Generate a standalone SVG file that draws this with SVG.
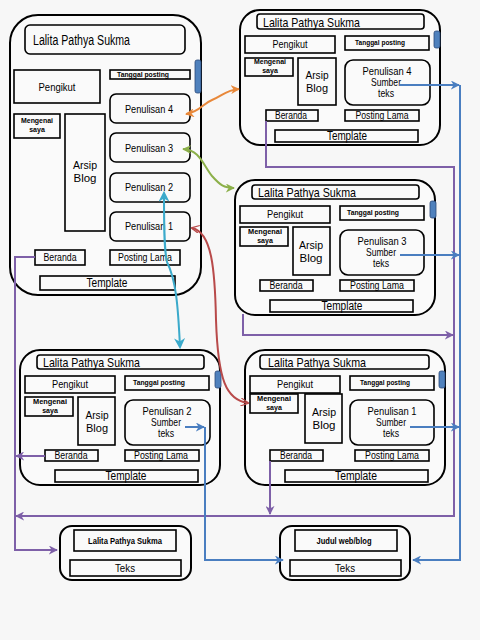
<svg xmlns="http://www.w3.org/2000/svg" width="480" height="640" viewBox="0 0 480 640">
<defs>
<style>
.frame{fill:#fafafa;stroke:#000;stroke-width:2}
.box{fill:#fafafa;stroke:#000;stroke-width:1.6}
.sb{fill:#4f81bd;stroke:#2c4a78;stroke-width:0.8}
text{font-family:"Liberation Sans",Arial,sans-serif;fill:#000}
.t14{font-size:14px}
.t13{font-size:13px}
.t12{font-size:12px;text-anchor:middle}
.t11{font-size:11px;text-anchor:middle}
.t10{font-size:10px;text-anchor:middle}
.ta{font-size:11px;text-anchor:middle}
.tb{font-size:7px;font-weight:bold;text-anchor:middle}
.tb9{font-size:9px;font-weight:bold;text-anchor:middle}
.c{fill:none;stroke-width:2}
.pu{stroke:#7e60a8}
.bl{stroke:#4a7ec0}
</style>
<marker id="mp" viewBox="0 0 10 10" refX="9" refY="5" markerWidth="9" markerHeight="9" markerUnits="userSpaceOnUse" orient="auto-start-reverse"><path d="M0,0 L10,5 L0,10 L3,5 z" fill="#7e60a8"/></marker>
<marker id="mb" viewBox="0 0 10 10" refX="9" refY="5" markerWidth="9" markerHeight="9" markerUnits="userSpaceOnUse" orient="auto-start-reverse"><path d="M0,0 L10,5 L0,10 L3,5 z" fill="#4a7ec0"/></marker>
<marker id="mo" viewBox="0 0 10 10" refX="9" refY="5" markerWidth="9" markerHeight="9" markerUnits="userSpaceOnUse" orient="auto-start-reverse"><path d="M0,0 L10,5 L0,10 L3,5 z" fill="#e8883a"/></marker>
<marker id="mg" viewBox="0 0 10 10" refX="9" refY="5" markerWidth="9" markerHeight="9" markerUnits="userSpaceOnUse" orient="auto-start-reverse"><path d="M0,0 L10,5 L0,10 L3,5 z" fill="#8cb04a"/></marker>
<marker id="mc" viewBox="0 0 10 10" refX="8" refY="5" markerWidth="11" markerHeight="11" markerUnits="userSpaceOnUse" orient="auto-start-reverse"><path d="M0,0 L10,5 L0,10 L3,5 z" fill="#3baacb"/></marker>
<marker id="mr" viewBox="0 0 10 10" refX="9" refY="5" markerWidth="8" markerHeight="8" markerUnits="userSpaceOnUse" orient="auto-start-reverse"><path d="M0,0 L10,5 L0,10" fill="none" stroke="#b84a4a" stroke-width="1.5"/></marker>
</defs>
<rect width="480" height="640" fill="#f7f7f7"/>

<g id="main">
<rect class="frame" x="10" y="15" width="191" height="280" rx="28"/>
<rect class="box" x="25" y="25" width="160" height="29" rx="5"/>
<text class="t14" x="33" y="45" textLength="97" lengthAdjust="spacingAndGlyphs">Lalita Pathya Sukma</text>
<rect class="sb" x="195" y="60" width="6" height="33" rx="2"/>
<rect class="box" x="14" y="70" width="86" height="33"/>
<text class="t11" x="57" y="91" textLength="37" lengthAdjust="spacingAndGlyphs">Pengikut</text>
<rect class="box" x="110" y="70" width="80" height="9"/>
<text class="tb" x="143" y="77" textLength="52" lengthAdjust="spacingAndGlyphs">Tanggal posting</text>
<rect class="box" x="110" y="94" width="80" height="29" rx="6"/>
<text class="t11" x="149" y="113" textLength="48" lengthAdjust="spacingAndGlyphs">Penulisan 4</text>
<rect class="box" x="14" y="114" width="46" height="24"/>
<text class="tb" x="37" y="123" textLength="32" lengthAdjust="spacingAndGlyphs">Mengenai</text>
<text class="tb" x="37" y="132">saya</text>
<rect class="box" x="65" y="114" width="40" height="117"/>
<text class="ta" x="85" y="169" textLength="24" lengthAdjust="spacingAndGlyphs">Arsip</text>
<text class="ta" x="85" y="182" textLength="23" lengthAdjust="spacingAndGlyphs">Blog</text>
<rect class="box" x="110" y="133" width="80" height="29" rx="6"/>
<text class="t11" x="149" y="152" textLength="48" lengthAdjust="spacingAndGlyphs">Penulisan 3</text>
<rect class="box" x="110" y="173" width="80" height="29" rx="6"/>
<text class="t11" x="149" y="191" textLength="48" lengthAdjust="spacingAndGlyphs">Penulisan 2</text>
<rect class="box" x="110" y="212" width="80" height="29" rx="6"/>
<text class="t11" x="149" y="230" textLength="48" lengthAdjust="spacingAndGlyphs">Penulisan 1</text>
<rect class="box" x="35" y="250" width="50" height="15"/>
<text class="t10" x="60" y="261" textLength="33" lengthAdjust="spacingAndGlyphs">Beranda</text>
<rect class="box" x="110" y="250" width="70" height="15"/>
<text class="t10" x="145" y="261" textLength="54" lengthAdjust="spacingAndGlyphs">Posting Lama</text>
<rect class="box" x="40" y="276" width="135" height="14"/>
<text class="t12" x="107" y="287" textLength="41" lengthAdjust="spacingAndGlyphs">Template</text>
</g>

<g id="page4">
<rect class="frame" x="240" y="10" width="200" height="135" rx="20"/>
<rect class="box" x="257" y="14" width="167" height="15" rx="3"/>
<text class="t13" x="263" y="27" textLength="97" lengthAdjust="spacingAndGlyphs">Lalita Pathya Sukma</text>
<rect class="sb" x="434" y="31" width="6" height="17" rx="2"/>
<rect class="box" x="245" y="36" width="90" height="17"/>
<text class="t11" x="290" y="48" textLength="35" lengthAdjust="spacingAndGlyphs">Pengikut</text>
<rect class="box" x="345" y="36" width="84" height="14"/>
<text class="tb" x="380" y="45" textLength="50" lengthAdjust="spacingAndGlyphs">Tanggal posting</text>
<rect class="box" x="245" y="58" width="48" height="18"/>
<text class="tb" x="270" y="64" textLength="32" lengthAdjust="spacingAndGlyphs">Mengenai</text>
<text class="tb" x="270" y="73">saya</text>
<rect class="box" x="298" y="58" width="38" height="47"/>
<text class="ta" x="317" y="79" textLength="23" lengthAdjust="spacingAndGlyphs">Arsip</text>
<text class="ta" x="317" y="92" textLength="22" lengthAdjust="spacingAndGlyphs">Blog</text>
<rect class="box" x="345" y="60" width="85" height="45" rx="8"/>
<text class="t11" x="387" y="75" textLength="49" lengthAdjust="spacingAndGlyphs">Penulisan 4</text>
<text class="t11" x="386" y="86" textLength="30" lengthAdjust="spacingAndGlyphs">Sumber</text>
<text class="t11" x="386" y="97" textLength="16" lengthAdjust="spacingAndGlyphs">teks</text>
<rect class="box" x="266" y="110" width="52" height="11"/>
<text class="t10" x="291" y="119" textLength="32" lengthAdjust="spacingAndGlyphs">Beranda</text>
<rect class="box" x="345" y="110" width="74" height="11"/>
<text class="t10" x="382" y="119" textLength="53" lengthAdjust="spacingAndGlyphs">Posting Lama</text>
<rect class="box" x="275" y="130" width="143" height="12"/>
<text class="t12" x="347" y="140" textLength="40" lengthAdjust="spacingAndGlyphs">Template</text>
</g>

<g id="page3">
<rect class="frame" x="235" y="180" width="200" height="135" rx="20"/>
<rect class="box" x="252" y="185" width="167" height="14" rx="3"/>
<text class="t13" x="258" y="197" textLength="98" lengthAdjust="spacingAndGlyphs">Lalita Pathya Sukma</text>
<rect class="sb" x="430" y="201" width="6" height="17" rx="2"/>
<rect class="box" x="240" y="206" width="90" height="17"/>
<text class="t11" x="285" y="218" textLength="36" lengthAdjust="spacingAndGlyphs">Pengikut</text>
<rect class="box" x="340" y="206" width="84" height="14"/>
<text class="tb" x="373" y="215" textLength="52" lengthAdjust="spacingAndGlyphs">Tanggal posting</text>
<rect class="box" x="240" y="227" width="48" height="19"/>
<text class="tb" x="265" y="234" textLength="34" lengthAdjust="spacingAndGlyphs">Mengenai</text>
<text class="tb" x="265" y="243">saya</text>
<rect class="box" x="293" y="227" width="37" height="48"/>
<text class="ta" x="311" y="249" textLength="24" lengthAdjust="spacingAndGlyphs">Arsip</text>
<text class="ta" x="311" y="262" textLength="23" lengthAdjust="spacingAndGlyphs">Blog</text>
<rect class="box" x="340" y="230" width="84" height="45" rx="8"/>
<text class="t11" x="382" y="245" textLength="49" lengthAdjust="spacingAndGlyphs">Penulisan 3</text>
<text class="t11" x="381" y="256" textLength="30" lengthAdjust="spacingAndGlyphs">Sumber</text>
<text class="t11" x="381" y="267" textLength="16" lengthAdjust="spacingAndGlyphs">teks</text>
<rect class="box" x="260" y="280" width="53" height="11"/>
<text class="t10" x="286" y="289" textLength="33" lengthAdjust="spacingAndGlyphs">Beranda</text>
<rect class="box" x="340" y="280" width="74" height="11"/>
<text class="t10" x="377" y="289" textLength="54" lengthAdjust="spacingAndGlyphs">Posting Lama</text>
<rect class="box" x="270" y="300" width="143" height="12"/>
<text class="t12" x="342" y="310" textLength="41" lengthAdjust="spacingAndGlyphs">Template</text>
</g>

<g id="page2">
<rect class="frame" x="20" y="350" width="200" height="135" rx="20"/>
<rect class="box" x="37" y="355" width="167" height="14" rx="3"/>
<text class="t13" x="43" y="367" textLength="97" lengthAdjust="spacingAndGlyphs">Lalita Pathya Sukma</text>
<rect class="sb" x="215" y="371" width="6" height="17" rx="2"/>
<rect class="box" x="25" y="376" width="90" height="17"/>
<text class="t11" x="70" y="388" textLength="36" lengthAdjust="spacingAndGlyphs">Pengikut</text>
<rect class="box" x="125" y="376" width="84" height="14"/>
<text class="tb" x="159" y="385" textLength="52" lengthAdjust="spacingAndGlyphs">Tanggal posting</text>
<rect class="box" x="25" y="397" width="48" height="19"/>
<text class="tb" x="50" y="404" textLength="34" lengthAdjust="spacingAndGlyphs">Mengenai</text>
<text class="tb" x="50" y="413">saya</text>
<rect class="box" x="78" y="397" width="37" height="48"/>
<text class="ta" x="97" y="419" textLength="23" lengthAdjust="spacingAndGlyphs">Arsip</text>
<text class="ta" x="97" y="432" textLength="22" lengthAdjust="spacingAndGlyphs">Blog</text>
<rect class="box" x="125" y="400" width="85" height="45" rx="8"/>
<text class="t11" x="167" y="415" textLength="49" lengthAdjust="spacingAndGlyphs">Penulisan 2</text>
<text class="t11" x="166" y="426" textLength="30" lengthAdjust="spacingAndGlyphs">Sumber</text>
<text class="t11" x="166" y="437" textLength="16" lengthAdjust="spacingAndGlyphs">teks</text>
<rect class="box" x="45" y="450" width="53" height="11"/>
<text class="t10" x="71" y="459" textLength="33" lengthAdjust="spacingAndGlyphs">Beranda</text>
<rect class="box" x="125" y="450" width="74" height="11"/>
<text class="t10" x="161" y="459" textLength="54" lengthAdjust="spacingAndGlyphs">Posting Lama</text>
<rect class="box" x="55" y="470" width="143" height="12"/>
<text class="t12" x="126" y="480" textLength="41" lengthAdjust="spacingAndGlyphs">Template</text>
</g>

<g id="page1">
<rect class="frame" x="245" y="350" width="200" height="135" rx="20"/>
<rect class="box" x="260" y="355" width="169" height="14" rx="3"/>
<text class="t13" x="268" y="367" textLength="98" lengthAdjust="spacingAndGlyphs">Lalita Pathya Sukma</text>
<rect class="sb" x="439" y="371" width="6" height="17" rx="2"/>
<rect class="box" x="250" y="376" width="90" height="17"/>
<text class="t11" x="295" y="388" textLength="36" lengthAdjust="spacingAndGlyphs">Pengikut</text>
<rect class="box" x="350" y="376" width="84" height="14"/>
<text class="tb" x="385" y="385" textLength="50" lengthAdjust="spacingAndGlyphs">Tanggal posting</text>
<rect class="box" x="250" y="394" width="48" height="19"/>
<text class="tb" x="274" y="401" textLength="34" lengthAdjust="spacingAndGlyphs">Mengenai</text>
<text class="tb" x="274" y="410">saya</text>
<rect class="box" x="305" y="394" width="37" height="49"/>
<text class="ta" x="324" y="416" textLength="24" lengthAdjust="spacingAndGlyphs">Arsip</text>
<text class="ta" x="324" y="429" textLength="23" lengthAdjust="spacingAndGlyphs">Blog</text>
<rect class="box" x="350" y="400" width="84" height="45" rx="8"/>
<text class="t11" x="392" y="415" textLength="49" lengthAdjust="spacingAndGlyphs">Penulisan 1</text>
<text class="t11" x="391" y="426" textLength="30" lengthAdjust="spacingAndGlyphs">Sumber</text>
<text class="t11" x="391" y="437" textLength="16" lengthAdjust="spacingAndGlyphs">teks</text>
<rect class="box" x="270" y="450" width="53" height="11"/>
<text class="t10" x="296" y="459" textLength="32" lengthAdjust="spacingAndGlyphs">Beranda</text>
<rect class="box" x="355" y="450" width="74" height="11"/>
<text class="t10" x="392" y="459" textLength="54" lengthAdjust="spacingAndGlyphs">Posting Lama</text>
<rect class="box" x="285" y="470" width="143" height="12"/>
<text class="t12" x="356" y="480" textLength="42" lengthAdjust="spacingAndGlyphs">Template</text>
</g>

<g id="output-left">
<rect class="frame" x="60" y="526" width="131" height="54" rx="12"/>
<rect class="box" x="74" y="530" width="102" height="21"/>
<text class="tb9" x="125" y="544" textLength="74" lengthAdjust="spacingAndGlyphs">Lalita Pathya Sukma</text>
<rect class="box" x="70" y="560" width="111" height="16"/>
<text class="t10" x="125" y="572" textLength="20" lengthAdjust="spacingAndGlyphs">Teks</text>
</g>

<g id="output-right">
<rect class="frame" x="280" y="526" width="130" height="54" rx="12"/>
<rect class="box" x="295" y="530" width="102" height="21"/>
<text class="tb9" x="344" y="544" textLength="55" lengthAdjust="spacingAndGlyphs">Judul web/blog</text>
<rect class="box" x="290" y="560" width="111" height="16"/>
<text class="t10" x="345" y="572" textLength="20" lengthAdjust="spacingAndGlyphs">Teks</text>
</g>

<g id="connectors">
<path class="c pu" d="M35,257 H15 V550 H57" marker-end="url(#mp)"/>
<path class="c pu" d="M45,456 H16" marker-end="url(#mp)"/>
<path class="c pu" d="M266,121 V167 H454 V516 H16" marker-end="url(#mp)"/>
<path class="c pu" d="M270,461 V514" marker-end="url(#mp)"/>
<path class="c pu" d="M243,314 V335 H453" marker-end="url(#mp)"/>
<path class="c bl" d="M400,85 H459" marker-end="url(#mb)"/>
<path class="c bl" d="M460,85 V560 H413" marker-end="url(#mb)"/>
<path class="c bl" d="M400,255 H459" marker-end="url(#mb)"/>
<path class="c bl" d="M410,427 H459" marker-end="url(#mb)"/>
<path class="c bl" d="M185,427 H204" marker-end="url(#mb)"/>
<path class="c bl" d="M205,427 V560 H283" marker-end="url(#mb)"/>
<path class="c" stroke="#e8883a" stroke-width="2.5" d="M186,114 C200,112 202,104 212,100 C222,96 226,90 239,89" marker-start="url(#mo)" marker-end="url(#mo)"/>
<path class="c" stroke="#8cb04a" stroke-width="2.5" d="M183,149 C200,150 203,165 212,176 C220,185 224,188 234,188" marker-start="url(#mg)" marker-end="url(#mg)"/>
<path class="c" stroke="#3baacb" stroke-width="3" d="M164,193 C164,225 164,250 167,262 C176,280 178,305 180,347" marker-start="url(#mc)" marker-end="url(#mc)"/>
<path class="c" stroke="#b84a4a" stroke-width="1.5" d="M192,228 C212,232 215,270 216,320 C218,380 226,400 248,403" marker-start="url(#mr)" marker-end="url(#mr)"/>
</g>
</svg>
